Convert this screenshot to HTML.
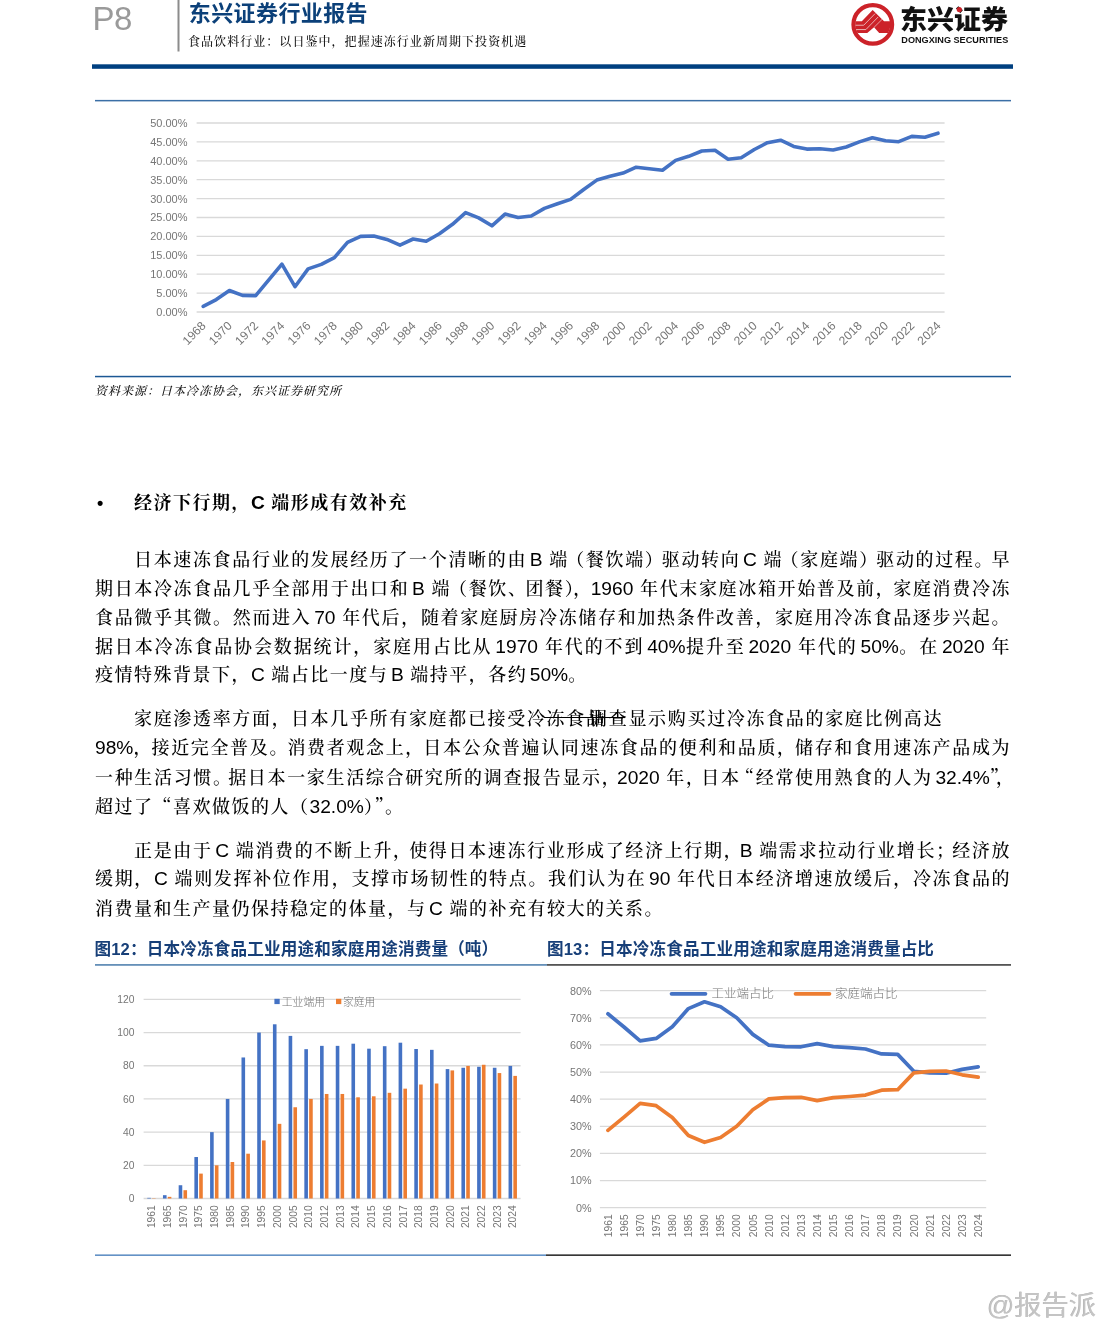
<!DOCTYPE html>
<html lang="zh-CN"><head><meta charset="utf-8"><title>东兴证券行业报告 P8</title>
<style>
html,body{margin:0;padding:0;background:#fff;}
body{width:1106px;height:1320px;position:relative;overflow:hidden;font-family:"Liberation Sans","Noto Serif CJK SC",serif;color:#000;}
svg{position:absolute;left:0;top:0;}
.abs{position:absolute;white-space:nowrap;}
.kai{font-family:"Liberation Sans","Noto Serif CJK SC",serif;}
.hei{font-family:"Liberation Sans","Noto Sans CJK SC","WenQuanYi Zen Hei",sans-serif;}
.ln{position:absolute;white-space:nowrap;font-family:"Liberation Sans","Noto Serif CJK SC",serif;font-size:18px;line-height:24px;height:24px;margin-top:-12px;letter-spacing:1.5px;color:#000;font-weight:500;}
.ln.j{text-align:justify;text-align-last:justify;white-space:normal;overflow:hidden;}
.ln .l{font-size:19.2px;letter-spacing:0;}
.st{position:relative;}
.st::after{content:'';position:absolute;left:-3px;right:3px;top:8.2px;border-top:1.1px solid #000;}
.ov{margin-right:-16.5px;}
.sp{letter-spacing:-2.5px;}
.q{font-family:"Noto Serif CJK SC",serif;}
.pr{margin-right:var(--t,0px);}
.pl{margin-left:var(--t,0px);}
.h{font-weight:700;}
</style></head><body>
<svg width="1106" height="1320" viewBox="0 0 1106 1320">
<rect x="177.5" y="0" width="2" height="51.5" fill="#8c8c8c"/>
<rect x="92" y="64.3" width="921" height="4.5" fill="#004080"/>
<rect x="95" y="99.9" width="916" height="1.5" fill="#3B6FA6"/>
<rect x="95" y="375.8" width="916" height="1.5" fill="#1C5894"/>
<rect x="95" y="964" width="452" height="1.8" fill="#6590B8"/>
<rect x="547" y="964" width="464" height="1.8" fill="#555"/>
<rect x="95" y="1254.5" width="451" height="1.3" fill="#3F78B8"/>
<rect x="546" y="1254.4" width="465" height="1.5" fill="#222"/>
<g transform="translate(845,0) scale(0.05426)"><defs><clipPath id="lc"><circle cx="512" cy="450" r="323"/></clipPath></defs><circle cx="512" cy="450" r="356" fill="none" stroke="#CC2229" stroke-width="78"/><g clip-path="url(#lc)"><polygon points="150,390 310,390 510,185 720,390 900,390 900,610 630,610 535,500 410,610 150,610" fill="#CC2229"/><polyline points="190,465 345,465 555,250" fill="none" stroke="#efd2d2" stroke-width="15"/><polyline points="190,545 385,545 612,312" fill="none" stroke="#efd2d2" stroke-width="15"/><polyline points="535,505 682,358" fill="none" stroke="#efd2d2" stroke-width="13"/></g></g>
<text x="900" y="28.5" font-family="'Noto Sans CJK SC','WenQuanYi Zen Hei',sans-serif" font-weight="900" font-size="26.5" fill="#111" textLength="108" lengthAdjust="spacingAndGlyphs">东兴证券</text>
<circle cx="959.3" cy="9.6" r="2.6" fill="#CC2229"/>
<text x="901.3" y="42.5" font-family="'Liberation Sans',sans-serif" font-weight="700" font-size="9.7" fill="#111" textLength="107" lengthAdjust="spacingAndGlyphs">DONGXING SECURITIES</text>
<line x1="196.6" x2="944.6" y1="312.00" y2="312.00" stroke="#D9D9D9" stroke-width="1.3"/>
<text x="187.5" y="315.90" text-anchor="end" font-family="'Liberation Sans','Noto Sans CJK SC',sans-serif" font-size="11" fill="#767676">0.00%</text>
<line x1="196.6" x2="944.6" y1="293.10" y2="293.10" stroke="#D9D9D9" stroke-width="1.3"/>
<text x="187.5" y="297.00" text-anchor="end" font-family="'Liberation Sans','Noto Sans CJK SC',sans-serif" font-size="11" fill="#767676">5.00%</text>
<line x1="196.6" x2="944.6" y1="274.20" y2="274.20" stroke="#D9D9D9" stroke-width="1.3"/>
<text x="187.5" y="278.10" text-anchor="end" font-family="'Liberation Sans','Noto Sans CJK SC',sans-serif" font-size="11" fill="#767676">10.00%</text>
<line x1="196.6" x2="944.6" y1="255.30" y2="255.30" stroke="#D9D9D9" stroke-width="1.3"/>
<text x="187.5" y="259.20" text-anchor="end" font-family="'Liberation Sans','Noto Sans CJK SC',sans-serif" font-size="11" fill="#767676">15.00%</text>
<line x1="196.6" x2="944.6" y1="236.40" y2="236.40" stroke="#D9D9D9" stroke-width="1.3"/>
<text x="187.5" y="240.30" text-anchor="end" font-family="'Liberation Sans','Noto Sans CJK SC',sans-serif" font-size="11" fill="#767676">20.00%</text>
<line x1="196.6" x2="944.6" y1="217.50" y2="217.50" stroke="#D9D9D9" stroke-width="1.3"/>
<text x="187.5" y="221.40" text-anchor="end" font-family="'Liberation Sans','Noto Sans CJK SC',sans-serif" font-size="11" fill="#767676">25.00%</text>
<line x1="196.6" x2="944.6" y1="198.60" y2="198.60" stroke="#D9D9D9" stroke-width="1.3"/>
<text x="187.5" y="202.50" text-anchor="end" font-family="'Liberation Sans','Noto Sans CJK SC',sans-serif" font-size="11" fill="#767676">30.00%</text>
<line x1="196.6" x2="944.6" y1="179.70" y2="179.70" stroke="#D9D9D9" stroke-width="1.3"/>
<text x="187.5" y="183.60" text-anchor="end" font-family="'Liberation Sans','Noto Sans CJK SC',sans-serif" font-size="11" fill="#767676">35.00%</text>
<line x1="196.6" x2="944.6" y1="160.80" y2="160.80" stroke="#D9D9D9" stroke-width="1.3"/>
<text x="187.5" y="164.70" text-anchor="end" font-family="'Liberation Sans','Noto Sans CJK SC',sans-serif" font-size="11" fill="#767676">40.00%</text>
<line x1="196.6" x2="944.6" y1="141.90" y2="141.90" stroke="#D9D9D9" stroke-width="1.3"/>
<text x="187.5" y="145.80" text-anchor="end" font-family="'Liberation Sans','Noto Sans CJK SC',sans-serif" font-size="11" fill="#767676">45.00%</text>
<line x1="196.6" x2="944.6" y1="123.00" y2="123.00" stroke="#D9D9D9" stroke-width="1.3"/>
<text x="187.5" y="126.90" text-anchor="end" font-family="'Liberation Sans','Noto Sans CJK SC',sans-serif" font-size="11" fill="#767676">50.00%</text>
<polyline points="203.2,306.4 216.3,299.6 229.4,290.5 242.5,295.4 255.7,295.6 268.8,279.9 281.9,264.2 295.0,286.7 308.1,268.9 321.3,264.4 334.4,257.6 347.5,242.4 360.6,236.4 373.8,236.0 386.9,239.4 400.0,245.1 413.1,239.0 426.2,241.3 439.4,233.8 452.5,224.3 465.6,212.6 478.7,217.9 491.9,225.8 505.0,214.1 518.1,217.5 531.2,216.0 544.4,208.4 557.5,203.7 570.6,199.4 583.7,189.5 596.8,180.1 610.0,176.3 623.1,173.1 636.2,167.2 649.3,168.7 662.5,170.2 675.6,160.4 688.7,156.3 701.8,151.0 715.0,150.2 728.1,159.3 741.2,157.8 754.3,149.5 767.4,142.7 780.6,140.2 793.7,146.4 806.8,149.1 819.9,148.7 833.1,150.0 846.2,147.0 859.3,141.9 872.4,137.7 885.5,140.8 898.7,141.7 911.8,136.4 924.9,137.2 938.0,133.2" fill="none" stroke="#4472C4" stroke-width="3.6" stroke-linejoin="round" stroke-linecap="round"/>
<text transform="translate(206.6,326.6) rotate(-45)" text-anchor="end" font-family="'Liberation Sans','Noto Sans CJK SC',sans-serif" font-size="12.1" fill="#767676">1968</text>
<text transform="translate(232.8,326.6) rotate(-45)" text-anchor="end" font-family="'Liberation Sans','Noto Sans CJK SC',sans-serif" font-size="12.1" fill="#767676">1970</text>
<text transform="translate(259.1,326.6) rotate(-45)" text-anchor="end" font-family="'Liberation Sans','Noto Sans CJK SC',sans-serif" font-size="12.1" fill="#767676">1972</text>
<text transform="translate(285.3,326.6) rotate(-45)" text-anchor="end" font-family="'Liberation Sans','Noto Sans CJK SC',sans-serif" font-size="12.1" fill="#767676">1974</text>
<text transform="translate(311.5,326.6) rotate(-45)" text-anchor="end" font-family="'Liberation Sans','Noto Sans CJK SC',sans-serif" font-size="12.1" fill="#767676">1976</text>
<text transform="translate(337.8,326.6) rotate(-45)" text-anchor="end" font-family="'Liberation Sans','Noto Sans CJK SC',sans-serif" font-size="12.1" fill="#767676">1978</text>
<text transform="translate(364.0,326.6) rotate(-45)" text-anchor="end" font-family="'Liberation Sans','Noto Sans CJK SC',sans-serif" font-size="12.1" fill="#767676">1980</text>
<text transform="translate(390.3,326.6) rotate(-45)" text-anchor="end" font-family="'Liberation Sans','Noto Sans CJK SC',sans-serif" font-size="12.1" fill="#767676">1982</text>
<text transform="translate(416.5,326.6) rotate(-45)" text-anchor="end" font-family="'Liberation Sans','Noto Sans CJK SC',sans-serif" font-size="12.1" fill="#767676">1984</text>
<text transform="translate(442.8,326.6) rotate(-45)" text-anchor="end" font-family="'Liberation Sans','Noto Sans CJK SC',sans-serif" font-size="12.1" fill="#767676">1986</text>
<text transform="translate(469.0,326.6) rotate(-45)" text-anchor="end" font-family="'Liberation Sans','Noto Sans CJK SC',sans-serif" font-size="12.1" fill="#767676">1988</text>
<text transform="translate(495.3,326.6) rotate(-45)" text-anchor="end" font-family="'Liberation Sans','Noto Sans CJK SC',sans-serif" font-size="12.1" fill="#767676">1990</text>
<text transform="translate(521.5,326.6) rotate(-45)" text-anchor="end" font-family="'Liberation Sans','Noto Sans CJK SC',sans-serif" font-size="12.1" fill="#767676">1992</text>
<text transform="translate(547.8,326.6) rotate(-45)" text-anchor="end" font-family="'Liberation Sans','Noto Sans CJK SC',sans-serif" font-size="12.1" fill="#767676">1994</text>
<text transform="translate(574.0,326.6) rotate(-45)" text-anchor="end" font-family="'Liberation Sans','Noto Sans CJK SC',sans-serif" font-size="12.1" fill="#767676">1996</text>
<text transform="translate(600.2,326.6) rotate(-45)" text-anchor="end" font-family="'Liberation Sans','Noto Sans CJK SC',sans-serif" font-size="12.1" fill="#767676">1998</text>
<text transform="translate(626.5,326.6) rotate(-45)" text-anchor="end" font-family="'Liberation Sans','Noto Sans CJK SC',sans-serif" font-size="12.1" fill="#767676">2000</text>
<text transform="translate(652.7,326.6) rotate(-45)" text-anchor="end" font-family="'Liberation Sans','Noto Sans CJK SC',sans-serif" font-size="12.1" fill="#767676">2002</text>
<text transform="translate(679.0,326.6) rotate(-45)" text-anchor="end" font-family="'Liberation Sans','Noto Sans CJK SC',sans-serif" font-size="12.1" fill="#767676">2004</text>
<text transform="translate(705.2,326.6) rotate(-45)" text-anchor="end" font-family="'Liberation Sans','Noto Sans CJK SC',sans-serif" font-size="12.1" fill="#767676">2006</text>
<text transform="translate(731.5,326.6) rotate(-45)" text-anchor="end" font-family="'Liberation Sans','Noto Sans CJK SC',sans-serif" font-size="12.1" fill="#767676">2008</text>
<text transform="translate(757.7,326.6) rotate(-45)" text-anchor="end" font-family="'Liberation Sans','Noto Sans CJK SC',sans-serif" font-size="12.1" fill="#767676">2010</text>
<text transform="translate(784.0,326.6) rotate(-45)" text-anchor="end" font-family="'Liberation Sans','Noto Sans CJK SC',sans-serif" font-size="12.1" fill="#767676">2012</text>
<text transform="translate(810.2,326.6) rotate(-45)" text-anchor="end" font-family="'Liberation Sans','Noto Sans CJK SC',sans-serif" font-size="12.1" fill="#767676">2014</text>
<text transform="translate(836.5,326.6) rotate(-45)" text-anchor="end" font-family="'Liberation Sans','Noto Sans CJK SC',sans-serif" font-size="12.1" fill="#767676">2016</text>
<text transform="translate(862.7,326.6) rotate(-45)" text-anchor="end" font-family="'Liberation Sans','Noto Sans CJK SC',sans-serif" font-size="12.1" fill="#767676">2018</text>
<text transform="translate(888.9,326.6) rotate(-45)" text-anchor="end" font-family="'Liberation Sans','Noto Sans CJK SC',sans-serif" font-size="12.1" fill="#767676">2020</text>
<text transform="translate(915.2,326.6) rotate(-45)" text-anchor="end" font-family="'Liberation Sans','Noto Sans CJK SC',sans-serif" font-size="12.1" fill="#767676">2022</text>
<text transform="translate(941.4,326.6) rotate(-45)" text-anchor="end" font-family="'Liberation Sans','Noto Sans CJK SC',sans-serif" font-size="12.1" fill="#767676">2024</text>
<line x1="143.6" x2="520.6" y1="1198.50" y2="1198.50" stroke="#D9D9D9" stroke-width="1.3"/>
<text x="134.5" y="1202.20" text-anchor="end" font-family="'Liberation Sans','Noto Sans CJK SC',sans-serif" font-size="10.3" fill="#767676">0</text>
<line x1="143.6" x2="520.6" y1="1165.32" y2="1165.32" stroke="#D9D9D9" stroke-width="1.3"/>
<text x="134.5" y="1169.02" text-anchor="end" font-family="'Liberation Sans','Noto Sans CJK SC',sans-serif" font-size="10.3" fill="#767676">20</text>
<line x1="143.6" x2="520.6" y1="1132.13" y2="1132.13" stroke="#D9D9D9" stroke-width="1.3"/>
<text x="134.5" y="1135.83" text-anchor="end" font-family="'Liberation Sans','Noto Sans CJK SC',sans-serif" font-size="10.3" fill="#767676">40</text>
<line x1="143.6" x2="520.6" y1="1098.95" y2="1098.95" stroke="#D9D9D9" stroke-width="1.3"/>
<text x="134.5" y="1102.65" text-anchor="end" font-family="'Liberation Sans','Noto Sans CJK SC',sans-serif" font-size="10.3" fill="#767676">60</text>
<line x1="143.6" x2="520.6" y1="1065.77" y2="1065.77" stroke="#D9D9D9" stroke-width="1.3"/>
<text x="134.5" y="1069.47" text-anchor="end" font-family="'Liberation Sans','Noto Sans CJK SC',sans-serif" font-size="10.3" fill="#767676">80</text>
<line x1="143.6" x2="520.6" y1="1032.58" y2="1032.58" stroke="#D9D9D9" stroke-width="1.3"/>
<text x="134.5" y="1036.28" text-anchor="end" font-family="'Liberation Sans','Noto Sans CJK SC',sans-serif" font-size="10.3" fill="#767676">100</text>
<line x1="143.6" x2="520.6" y1="999.40" y2="999.40" stroke="#D9D9D9" stroke-width="1.3"/>
<text x="134.5" y="1003.10" text-anchor="end" font-family="'Liberation Sans','Noto Sans CJK SC',sans-serif" font-size="10.3" fill="#767676">120</text>
<rect x="147.25" y="1197.84" width="3.6" height="0.66" fill="#4472C4"/>
<rect x="152.05" y="1198.17" width="3.6" height="0.33" fill="#ED7D31"/>
<text transform="translate(155.2,1205.2) rotate(-90)" text-anchor="end" font-family="'Liberation Sans','Noto Sans CJK SC',sans-serif" font-size="10.3" fill="#767676">1961</text>
<rect x="162.96" y="1195.18" width="3.6" height="3.32" fill="#4472C4"/>
<rect x="167.76" y="1196.84" width="3.6" height="1.66" fill="#ED7D31"/>
<text transform="translate(170.9,1205.2) rotate(-90)" text-anchor="end" font-family="'Liberation Sans','Noto Sans CJK SC',sans-serif" font-size="10.3" fill="#767676">1965</text>
<rect x="178.67" y="1185.23" width="3.6" height="13.27" fill="#4472C4"/>
<rect x="183.47" y="1190.20" width="3.6" height="8.30" fill="#ED7D31"/>
<text transform="translate(186.6,1205.2) rotate(-90)" text-anchor="end" font-family="'Liberation Sans','Noto Sans CJK SC',sans-serif" font-size="10.3" fill="#767676">1970</text>
<rect x="194.38" y="1157.02" width="3.6" height="41.48" fill="#4472C4"/>
<rect x="199.18" y="1173.61" width="3.6" height="24.89" fill="#ED7D31"/>
<text transform="translate(202.3,1205.2) rotate(-90)" text-anchor="end" font-family="'Liberation Sans','Noto Sans CJK SC',sans-serif" font-size="10.3" fill="#767676">1975</text>
<rect x="210.09" y="1132.13" width="3.6" height="66.37" fill="#4472C4"/>
<rect x="214.89" y="1165.32" width="3.6" height="33.18" fill="#ED7D31"/>
<text transform="translate(218.0,1205.2) rotate(-90)" text-anchor="end" font-family="'Liberation Sans','Noto Sans CJK SC',sans-serif" font-size="10.3" fill="#767676">1980</text>
<rect x="225.80" y="1098.95" width="3.6" height="99.55" fill="#4472C4"/>
<rect x="230.60" y="1162.00" width="3.6" height="36.50" fill="#ED7D31"/>
<text transform="translate(233.7,1205.2) rotate(-90)" text-anchor="end" font-family="'Liberation Sans','Noto Sans CJK SC',sans-serif" font-size="10.3" fill="#767676">1985</text>
<rect x="241.50" y="1057.47" width="3.6" height="141.03" fill="#4472C4"/>
<rect x="246.30" y="1153.70" width="3.6" height="44.80" fill="#ED7D31"/>
<text transform="translate(249.4,1205.2) rotate(-90)" text-anchor="end" font-family="'Liberation Sans','Noto Sans CJK SC',sans-serif" font-size="10.3" fill="#767676">1990</text>
<rect x="257.21" y="1032.58" width="3.6" height="165.92" fill="#4472C4"/>
<rect x="262.01" y="1140.43" width="3.6" height="58.07" fill="#ED7D31"/>
<text transform="translate(265.1,1205.2) rotate(-90)" text-anchor="end" font-family="'Liberation Sans','Noto Sans CJK SC',sans-serif" font-size="10.3" fill="#767676">1995</text>
<rect x="272.92" y="1024.29" width="3.6" height="174.21" fill="#4472C4"/>
<rect x="277.72" y="1123.84" width="3.6" height="74.66" fill="#ED7D31"/>
<text transform="translate(280.8,1205.2) rotate(-90)" text-anchor="end" font-family="'Liberation Sans','Noto Sans CJK SC',sans-serif" font-size="10.3" fill="#767676">2000</text>
<rect x="288.63" y="1035.90" width="3.6" height="162.60" fill="#4472C4"/>
<rect x="293.43" y="1107.25" width="3.6" height="91.25" fill="#ED7D31"/>
<text transform="translate(296.5,1205.2) rotate(-90)" text-anchor="end" font-family="'Liberation Sans','Noto Sans CJK SC',sans-serif" font-size="10.3" fill="#767676">2005</text>
<rect x="304.34" y="1049.17" width="3.6" height="149.33" fill="#4472C4"/>
<rect x="309.14" y="1098.95" width="3.6" height="99.55" fill="#ED7D31"/>
<text transform="translate(312.2,1205.2) rotate(-90)" text-anchor="end" font-family="'Liberation Sans','Noto Sans CJK SC',sans-serif" font-size="10.3" fill="#767676">2010</text>
<rect x="320.05" y="1045.86" width="3.6" height="152.64" fill="#4472C4"/>
<rect x="324.85" y="1093.97" width="3.6" height="104.53" fill="#ED7D31"/>
<text transform="translate(327.9,1205.2) rotate(-90)" text-anchor="end" font-family="'Liberation Sans','Noto Sans CJK SC',sans-serif" font-size="10.3" fill="#767676">2012</text>
<rect x="335.75" y="1045.86" width="3.6" height="152.64" fill="#4472C4"/>
<rect x="340.55" y="1093.97" width="3.6" height="104.53" fill="#ED7D31"/>
<text transform="translate(343.7,1205.2) rotate(-90)" text-anchor="end" font-family="'Liberation Sans','Noto Sans CJK SC',sans-serif" font-size="10.3" fill="#767676">2013</text>
<rect x="351.46" y="1043.70" width="3.6" height="154.80" fill="#4472C4"/>
<rect x="356.26" y="1097.29" width="3.6" height="101.21" fill="#ED7D31"/>
<text transform="translate(359.4,1205.2) rotate(-90)" text-anchor="end" font-family="'Liberation Sans','Noto Sans CJK SC',sans-serif" font-size="10.3" fill="#767676">2014</text>
<rect x="367.17" y="1048.68" width="3.6" height="149.82" fill="#4472C4"/>
<rect x="371.97" y="1096.30" width="3.6" height="102.20" fill="#ED7D31"/>
<text transform="translate(375.1,1205.2) rotate(-90)" text-anchor="end" font-family="'Liberation Sans','Noto Sans CJK SC',sans-serif" font-size="10.3" fill="#767676">2015</text>
<rect x="382.88" y="1046.19" width="3.6" height="152.31" fill="#4472C4"/>
<rect x="387.68" y="1092.81" width="3.6" height="105.69" fill="#ED7D31"/>
<text transform="translate(390.8,1205.2) rotate(-90)" text-anchor="end" font-family="'Liberation Sans','Noto Sans CJK SC',sans-serif" font-size="10.3" fill="#767676">2016</text>
<rect x="398.59" y="1042.70" width="3.6" height="155.80" fill="#4472C4"/>
<rect x="403.39" y="1088.66" width="3.6" height="109.84" fill="#ED7D31"/>
<text transform="translate(406.5,1205.2) rotate(-90)" text-anchor="end" font-family="'Liberation Sans','Noto Sans CJK SC',sans-serif" font-size="10.3" fill="#767676">2017</text>
<rect x="414.30" y="1049.01" width="3.6" height="149.49" fill="#4472C4"/>
<rect x="419.10" y="1084.52" width="3.6" height="113.98" fill="#ED7D31"/>
<text transform="translate(422.2,1205.2) rotate(-90)" text-anchor="end" font-family="'Liberation Sans','Noto Sans CJK SC',sans-serif" font-size="10.3" fill="#767676">2018</text>
<rect x="430.00" y="1049.84" width="3.6" height="148.66" fill="#4472C4"/>
<rect x="434.80" y="1083.52" width="3.6" height="114.98" fill="#ED7D31"/>
<text transform="translate(437.9,1205.2) rotate(-90)" text-anchor="end" font-family="'Liberation Sans','Noto Sans CJK SC',sans-serif" font-size="10.3" fill="#767676">2019</text>
<rect x="445.71" y="1069.09" width="3.6" height="129.42" fill="#4472C4"/>
<rect x="450.51" y="1070.41" width="3.6" height="128.09" fill="#ED7D31"/>
<text transform="translate(453.6,1205.2) rotate(-90)" text-anchor="end" font-family="'Liberation Sans','Noto Sans CJK SC',sans-serif" font-size="10.3" fill="#767676">2020</text>
<rect x="461.42" y="1067.76" width="3.6" height="130.74" fill="#4472C4"/>
<rect x="466.22" y="1065.93" width="3.6" height="132.57" fill="#ED7D31"/>
<text transform="translate(469.3,1205.2) rotate(-90)" text-anchor="end" font-family="'Liberation Sans','Noto Sans CJK SC',sans-serif" font-size="10.3" fill="#767676">2021</text>
<rect x="477.13" y="1066.76" width="3.6" height="131.74" fill="#4472C4"/>
<rect x="481.93" y="1064.77" width="3.6" height="133.73" fill="#ED7D31"/>
<text transform="translate(485.0,1205.2) rotate(-90)" text-anchor="end" font-family="'Liberation Sans','Noto Sans CJK SC',sans-serif" font-size="10.3" fill="#767676">2022</text>
<rect x="492.84" y="1067.76" width="3.6" height="130.74" fill="#4472C4"/>
<rect x="497.64" y="1073.07" width="3.6" height="125.43" fill="#ED7D31"/>
<text transform="translate(500.7,1205.2) rotate(-90)" text-anchor="end" font-family="'Liberation Sans','Noto Sans CJK SC',sans-serif" font-size="10.3" fill="#767676">2023</text>
<rect x="508.55" y="1065.93" width="3.6" height="132.57" fill="#4472C4"/>
<rect x="513.35" y="1075.89" width="3.6" height="122.61" fill="#ED7D31"/>
<text transform="translate(516.4,1205.2) rotate(-90)" text-anchor="end" font-family="'Liberation Sans','Noto Sans CJK SC',sans-serif" font-size="10.3" fill="#767676">2024</text>
<rect x="274.4" y="998.8" width="5.3" height="5.3" fill="#4472C4"/>
<text x="281.8" y="1005.6" font-family="'Liberation Sans','Noto Sans CJK SC',sans-serif" font-weight="300" font-size="10.8" fill="#767676">工业端用</text>
<rect x="336" y="998.8" width="5.3" height="5.3" fill="#ED7D31"/>
<text x="343" y="1005.6" font-family="'Liberation Sans','Noto Sans CJK SC',sans-serif" font-weight="300" font-size="10.8" fill="#767676">家庭用</text>
<line x1="599.9" x2="986.2" y1="1207.70" y2="1207.70" stroke="#D9D9D9" stroke-width="1.3"/>
<text x="591.5" y="1211.60" text-anchor="end" font-family="'Liberation Sans','Noto Sans CJK SC',sans-serif" font-size="10.8" fill="#767676">0%</text>
<line x1="599.9" x2="986.2" y1="1180.58" y2="1180.58" stroke="#D9D9D9" stroke-width="1.3"/>
<text x="591.5" y="1184.48" text-anchor="end" font-family="'Liberation Sans','Noto Sans CJK SC',sans-serif" font-size="10.8" fill="#767676">10%</text>
<line x1="599.9" x2="986.2" y1="1153.45" y2="1153.45" stroke="#D9D9D9" stroke-width="1.3"/>
<text x="591.5" y="1157.35" text-anchor="end" font-family="'Liberation Sans','Noto Sans CJK SC',sans-serif" font-size="10.8" fill="#767676">20%</text>
<line x1="599.9" x2="986.2" y1="1126.33" y2="1126.33" stroke="#D9D9D9" stroke-width="1.3"/>
<text x="591.5" y="1130.23" text-anchor="end" font-family="'Liberation Sans','Noto Sans CJK SC',sans-serif" font-size="10.8" fill="#767676">30%</text>
<line x1="599.9" x2="986.2" y1="1099.20" y2="1099.20" stroke="#D9D9D9" stroke-width="1.3"/>
<text x="591.5" y="1103.10" text-anchor="end" font-family="'Liberation Sans','Noto Sans CJK SC',sans-serif" font-size="10.8" fill="#767676">40%</text>
<line x1="599.9" x2="986.2" y1="1072.08" y2="1072.08" stroke="#D9D9D9" stroke-width="1.3"/>
<text x="591.5" y="1075.98" text-anchor="end" font-family="'Liberation Sans','Noto Sans CJK SC',sans-serif" font-size="10.8" fill="#767676">50%</text>
<line x1="599.9" x2="986.2" y1="1044.95" y2="1044.95" stroke="#D9D9D9" stroke-width="1.3"/>
<text x="591.5" y="1048.85" text-anchor="end" font-family="'Liberation Sans','Noto Sans CJK SC',sans-serif" font-size="10.8" fill="#767676">60%</text>
<line x1="599.9" x2="986.2" y1="1017.83" y2="1017.83" stroke="#D9D9D9" stroke-width="1.3"/>
<text x="591.5" y="1021.73" text-anchor="end" font-family="'Liberation Sans','Noto Sans CJK SC',sans-serif" font-size="10.8" fill="#767676">70%</text>
<line x1="599.9" x2="986.2" y1="990.70" y2="990.70" stroke="#D9D9D9" stroke-width="1.3"/>
<text x="591.5" y="994.60" text-anchor="end" font-family="'Liberation Sans','Noto Sans CJK SC',sans-serif" font-size="10.8" fill="#767676">80%</text>
<text transform="translate(611.6,1214.3) rotate(-90)" text-anchor="end" font-family="'Liberation Sans','Noto Sans CJK SC',sans-serif" font-size="10.3" fill="#767676">1961</text>
<text transform="translate(627.7,1214.3) rotate(-90)" text-anchor="end" font-family="'Liberation Sans','Noto Sans CJK SC',sans-serif" font-size="10.3" fill="#767676">1965</text>
<text transform="translate(643.8,1214.3) rotate(-90)" text-anchor="end" font-family="'Liberation Sans','Noto Sans CJK SC',sans-serif" font-size="10.3" fill="#767676">1970</text>
<text transform="translate(659.9,1214.3) rotate(-90)" text-anchor="end" font-family="'Liberation Sans','Noto Sans CJK SC',sans-serif" font-size="10.3" fill="#767676">1975</text>
<text transform="translate(676.0,1214.3) rotate(-90)" text-anchor="end" font-family="'Liberation Sans','Noto Sans CJK SC',sans-serif" font-size="10.3" fill="#767676">1980</text>
<text transform="translate(692.1,1214.3) rotate(-90)" text-anchor="end" font-family="'Liberation Sans','Noto Sans CJK SC',sans-serif" font-size="10.3" fill="#767676">1985</text>
<text transform="translate(708.2,1214.3) rotate(-90)" text-anchor="end" font-family="'Liberation Sans','Noto Sans CJK SC',sans-serif" font-size="10.3" fill="#767676">1990</text>
<text transform="translate(724.3,1214.3) rotate(-90)" text-anchor="end" font-family="'Liberation Sans','Noto Sans CJK SC',sans-serif" font-size="10.3" fill="#767676">1995</text>
<text transform="translate(740.4,1214.3) rotate(-90)" text-anchor="end" font-family="'Liberation Sans','Noto Sans CJK SC',sans-serif" font-size="10.3" fill="#767676">2000</text>
<text transform="translate(756.5,1214.3) rotate(-90)" text-anchor="end" font-family="'Liberation Sans','Noto Sans CJK SC',sans-serif" font-size="10.3" fill="#767676">2005</text>
<text transform="translate(772.6,1214.3) rotate(-90)" text-anchor="end" font-family="'Liberation Sans','Noto Sans CJK SC',sans-serif" font-size="10.3" fill="#767676">2010</text>
<text transform="translate(788.7,1214.3) rotate(-90)" text-anchor="end" font-family="'Liberation Sans','Noto Sans CJK SC',sans-serif" font-size="10.3" fill="#767676">2012</text>
<text transform="translate(804.8,1214.3) rotate(-90)" text-anchor="end" font-family="'Liberation Sans','Noto Sans CJK SC',sans-serif" font-size="10.3" fill="#767676">2013</text>
<text transform="translate(820.9,1214.3) rotate(-90)" text-anchor="end" font-family="'Liberation Sans','Noto Sans CJK SC',sans-serif" font-size="10.3" fill="#767676">2014</text>
<text transform="translate(837.0,1214.3) rotate(-90)" text-anchor="end" font-family="'Liberation Sans','Noto Sans CJK SC',sans-serif" font-size="10.3" fill="#767676">2015</text>
<text transform="translate(853.1,1214.3) rotate(-90)" text-anchor="end" font-family="'Liberation Sans','Noto Sans CJK SC',sans-serif" font-size="10.3" fill="#767676">2016</text>
<text transform="translate(869.2,1214.3) rotate(-90)" text-anchor="end" font-family="'Liberation Sans','Noto Sans CJK SC',sans-serif" font-size="10.3" fill="#767676">2017</text>
<text transform="translate(885.3,1214.3) rotate(-90)" text-anchor="end" font-family="'Liberation Sans','Noto Sans CJK SC',sans-serif" font-size="10.3" fill="#767676">2018</text>
<text transform="translate(901.4,1214.3) rotate(-90)" text-anchor="end" font-family="'Liberation Sans','Noto Sans CJK SC',sans-serif" font-size="10.3" fill="#767676">2019</text>
<text transform="translate(917.5,1214.3) rotate(-90)" text-anchor="end" font-family="'Liberation Sans','Noto Sans CJK SC',sans-serif" font-size="10.3" fill="#767676">2020</text>
<text transform="translate(933.6,1214.3) rotate(-90)" text-anchor="end" font-family="'Liberation Sans','Noto Sans CJK SC',sans-serif" font-size="10.3" fill="#767676">2021</text>
<text transform="translate(949.7,1214.3) rotate(-90)" text-anchor="end" font-family="'Liberation Sans','Noto Sans CJK SC',sans-serif" font-size="10.3" fill="#767676">2022</text>
<text transform="translate(965.8,1214.3) rotate(-90)" text-anchor="end" font-family="'Liberation Sans','Noto Sans CJK SC',sans-serif" font-size="10.3" fill="#767676">2023</text>
<text transform="translate(981.9,1214.3) rotate(-90)" text-anchor="end" font-family="'Liberation Sans','Noto Sans CJK SC',sans-serif" font-size="10.3" fill="#767676">2024</text>
<polyline points="607.9,1013.8 624.0,1027.0 640.1,1040.9 656.2,1038.4 672.3,1026.8 688.4,1008.6 704.5,1001.8 720.6,1006.7 736.7,1017.8 752.8,1034.4 768.9,1045.2 785.0,1046.6 801.1,1046.8 817.2,1043.6 833.3,1046.6 849.4,1047.7 865.5,1049.0 881.6,1053.9 897.7,1054.4 913.8,1071.3 929.9,1072.9 946.0,1073.2 962.1,1069.4 978.2,1066.9" fill="none" stroke="#4472C4" stroke-width="3.7" stroke-linejoin="round" stroke-linecap="round"/>
<polyline points="607.9,1130.4 624.0,1117.1 640.1,1103.3 656.2,1105.7 672.3,1117.4 688.4,1135.5 704.5,1142.3 720.6,1137.4 736.7,1126.3 752.8,1109.8 768.9,1098.9 785.0,1097.6 801.1,1097.3 817.2,1100.6 833.3,1097.6 849.4,1096.5 865.5,1095.1 881.6,1090.2 897.7,1089.7 913.8,1072.9 929.9,1071.3 946.0,1071.0 962.1,1074.8 978.2,1077.2" fill="none" stroke="#ED7D31" stroke-width="3.7" stroke-linejoin="round" stroke-linecap="round"/>
<line x1="671.5" x2="705.5" y1="993.8" y2="993.8" stroke="#4472C4" stroke-width="3.7" stroke-linecap="round"/>
<text x="711.6" y="998.3" font-family="'Liberation Sans','Noto Sans CJK SC',sans-serif" font-weight="300" font-size="12.5" fill="#767676">工业端占比</text>
<line x1="795.5" x2="829.5" y1="993.8" y2="993.8" stroke="#ED7D31" stroke-width="3.7" stroke-linecap="round"/>
<text x="835" y="998.3" font-family="'Liberation Sans','Noto Sans CJK SC',sans-serif" font-weight="300" font-size="12.5" fill="#767676">家庭端占比</text>
</svg>
<div class="abs hei" style="left:92.5px;top:0px;font-size:33px;line-height:38px;color:#9a9a9a;letter-spacing:-0.6px;">P8</div>
<div class="abs hei" style="left:188.8px;top:-1px;font-size:22px;line-height:30px;font-weight:700;color:#0B4079;letter-spacing:0.4px;">东兴证券行业报告</div>
<div class="abs kai" style="left:188px;top:33px;font-size:12px;line-height:18px;letter-spacing:1.05px;font-weight:500;color:#111;">食品饮料行业：以日鉴中，把握速冻行业新周期下投资机遇</div>
<div class="abs kai" style="left:95px;top:382px;font-size:12px;line-height:18px;letter-spacing:1px;font-style:italic;color:#111;font-weight:500;">资料来源：日本冷冻协会，东兴证券研究所</div>
<div class="ln h" style="top:503.3px;left:97px;">•</div>
<div class="ln h" style="top:503.3px;left:134px;">经济下行期<span class="pr">，</span><span class="l">C</span> 端形成有效补充</div>
<div class="ln j" style="top:559.8px;left:134px;width:877px;--t:-2.65px;">日本速冻食品行业的发展经历了一个清晰的由<span class="sp"> </span><span class="l">B</span> 端<span class="pl">（</span>餐饮端<span class="pr">）</span>驱动转向<span class="sp"> </span><span class="l">C</span> 端<span class="pl">（</span>家庭端<span class="pr">）</span>驱动的过程<span class="pr">。</span>早</div>
<div class="ln j" style="top:588.8px;left:95px;width:916px;--t:-2.21px;">期日本冷冻食品几乎全部用于出口和<span class="sp"> </span><span class="l">B</span> 端<span class="pl">（</span>餐饮<span class="pr">、</span>团餐<span class="pr">）</span><span class="pr">，</span><span class="l">1960</span> 年代末家庭冰箱开始普及前<span class="pr">，</span>家庭消费冷冻</div>
<div class="ln j" style="top:617.9px;left:95px;width:916px;">食品微乎其微<span class="pr">。</span>然而进入<span class="sp"> </span><span class="l">70</span> 年代后<span class="pr">，</span>随着家庭厨房冷冻储存和加热条件改善<span class="pr">，</span>家庭用冷冻食品逐步兴起<span class="pr">。</span></div>
<div class="ln j" style="top:646.9px;left:95px;width:916px;">据日本冷冻食品协会数据统计<span class="pr">，</span>家庭用占比从<span class="sp"> </span><span class="l">1970</span> 年代的不到<span class="sp"> </span><span class="l">40%</span>提升至<span class="sp"> </span><span class="l">2020</span> 年代的<span class="sp"> </span><span class="l">50%</span><span class="pr">。</span>在<span class="sp"> </span><span class="l">2020</span> 年</div>
<div class="ln" style="top:675.1px;left:95px;">疫情特殊背景下<span class="pr">，</span><span class="l">C</span> 端占比一度与<span class="sp"> </span><span class="l">B</span> 端持平<span class="pr">，</span>各约<span class="sp"> </span><span class="l">50%</span><span class="pr">。</span></div>
<div class="ln j" style="top:719.0px;left:134px;width:809px;--t:-0.50px;">家庭渗透率方面<span class="pr">，</span>日本几乎所有家庭都已接受冷<span class="st">冻食<span class="ov">品</span>调查</span>显示购买过冷冻食品的家庭比例高达</div>
<div class="ln j" style="top:748.0px;left:95px;width:916px;--t:-1.73px;"><span class="l">98%</span><span class="pr">，</span>接近完全普及<span class="pr">。</span>消费者观念上<span class="pr">，</span>日本公众普遍认同速冻食品的便利和品质<span class="pr">，</span>储存和食用速冻产品成为</div>
<div class="ln j" style="top:776.4px;left:95px;width:916px;--t:-4.44px;">一种生活习惯<span class="pr">。</span>据日本一家生活综合研究所的调查报告显示<span class="pr">，</span><span class="l">2020</span> 年<span class="pr">，</span>日本<span class="pl q">“</span>经常使用熟食的人为<span class="sp"> </span><span class="l">32.4%</span><span class="pr q">”</span><span class="pr">，</span></div>
<div class="ln" style="top:805.4px;left:95px;">超过了<span class="pl q">“</span>喜欢做饭的人<span class="pl">（</span><span class="l">32.0%</span><span class="pr">）</span><span class="pr q">”</span><span class="pr">。</span></div>
<div class="ln j" style="top:850.6px;left:134px;width:877px;--t:-3.57px;">正是由于<span class="sp"> </span><span class="l">C</span> 端消费的不断上升<span class="pr">，</span>使得日本速冻行业形成了经济上行期<span class="pr">，</span><span class="l">B</span> 端需求拉动行业增长<span class="pr">；</span>经济放</div>
<div class="ln j" style="top:879.2px;left:95px;width:916px;">缓期<span class="pr">，</span><span class="l">C</span> 端则发挥补位作用<span class="pr">，</span>支撑市场韧性的特点<span class="pr">。</span>我们认为在<span class="sp"> </span><span class="l">90</span> 年代日本经济增速放缓后<span class="pr">，</span>冷冻食品的</div>
<div class="ln" style="top:908.7px;left:95px;">消费量和生产量仍保持稳定的体量<span class="pr">，</span>与<span class="sp"> </span><span class="l">C</span> 端的补充有较大的关系<span class="pr">。</span></div>
<div class="abs hei" style="left:94.5px;top:937.5px;font-size:16.6px;line-height:24px;font-weight:700;color:#173F78;letter-spacing:0.15px;">图12：日本冷冻食品工业用途和家庭用途消费量（吨）</div>
<div class="abs hei" style="left:547px;top:937.5px;font-size:16.6px;line-height:24px;font-weight:700;color:#173F78;letter-spacing:0.15px;">图13：日本冷冻食品工业用途和家庭用途消费量占比</div>
<div class="abs hei" style="left:987px;top:1288px;font-size:27.2px;line-height:36px;color:#c4c4c4;text-shadow:1px 1px 0 #fff, -0.5px -0.5px 0 #b0b0b0;">@报告派</div>
</body></html>
